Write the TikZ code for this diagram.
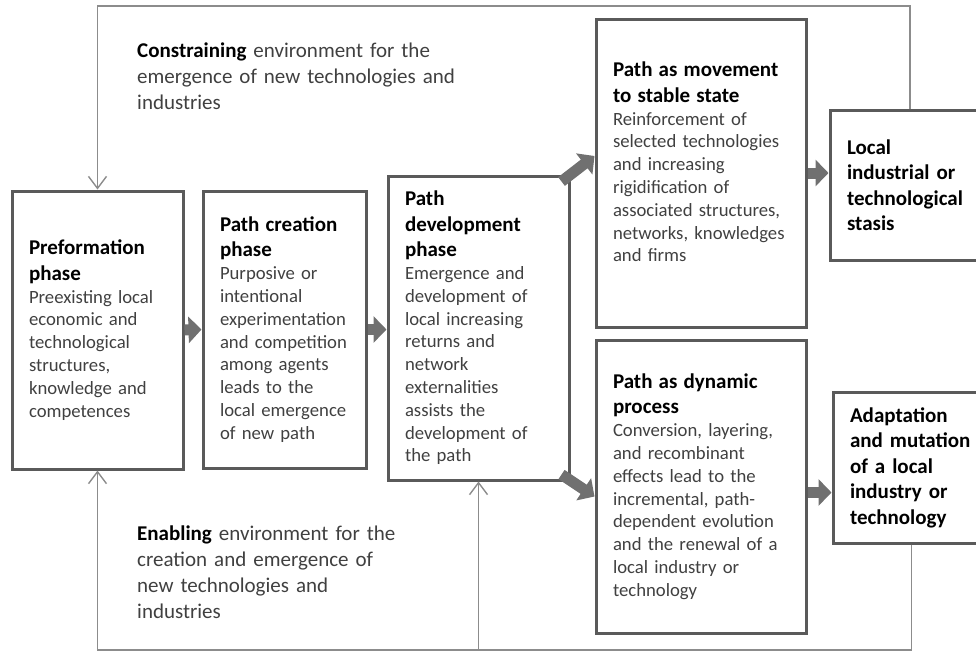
\documentclass[tikz,border=0pt]{standalone}
\usepackage{fontspec}
\setmainfont{Carlito}
\usetikzlibrary{arrows.meta,positioning,calc}

\definecolor{boxgray}{HTML}{5A5A5A}
\definecolor{linegray}{HTML}{8C8C8C}
\definecolor{arrowgray}{HTML}{707070}
\definecolor{textgray}{HTML}{404040}

\newcommand{\phasehead}[1]{{\fontsize{21}{25.5}\selectfont\bfseries\color{black}#1\par}}

\tikzset{
  phase/.style={draw=boxgray, line width=3pt, inner xsep=17pt, inner ysep=0pt, align=left,
    text=textgray, font=\fontsize{18.7}{22.8}\selectfont},
  outcome/.style={phase, text=black, font=\fontsize{21}{25.5}\selectfont\bfseries},
  envline/.style={draw=linegray, line width=1.4pt},
  envarrow/.style={envline, -{Straight Barb[length=12pt,width=18pt]}},
  fat/.style={draw=arrowgray, line width=11pt, -{Triangle[length=13pt,width=26pt]}},
  envtext/.style={anchor=north west, inner sep=0pt, align=left, text=textgray,
    font=\fontsize{21}{26}\selectfont, text width=340pt}
}

\begin{document}
\begin{tikzpicture}[x=1pt, y=-1pt]

    \clip (0,0) rectangle (976,651);

    \coordinate (top) at (0,6);
    \coordinate (bottom) at (0,650);

    % phases
    \node[phase, text width=137pt, minimum height=278pt] (pref) at (97.5,330)
        {\phasehead{Preformation\\phase}Preexisting local\\economic and\\technological\\structures,\\knowledge and\\competences};
    \node[phase, text width=129pt, minimum height=277pt] (crea) at (284.5,329.5)
        {\phasehead{Path creation\\phase}Purposive or\\intentional\\experimentation\\and competition\\among agents\\leads to the\\local emergence\\of new path};
    \node[phase, text width=147pt, minimum height=304pt] (dev) at (478.5,328)
        {\phasehead{Path\\development\\phase}Emergence and\\development of\\local increasing\\returns and\\network\\externalities\\assists the\\development of\\the path};
    \node[phase, text width=176pt, minimum height=308pt] (mov) at (701,173)
        {\phasehead{Path as movement\\to stable state}Reinforcement of\\selected technologies\\and increasing\\rigidification of\\associated structures,\\networks, knowledges\\and firms\par\vspace*{22pt}};
    \node[phase, text width=176pt, minimum height=293pt] (dyn) at (701,486.5)
        {\phasehead{Path as dynamic\\process}Conversion, layering,\\and recombinant\\effects lead to the\\incremental, path-\\dependent evolution\\and the renewal of a\\local industry or\\technology};

    % outcomes
    \node[outcome, text width=126pt, minimum height=150pt] (stasis) at (910,185)
        {Local\\industrial or\\technological\\stasis};
    \node[outcome, text width=123pt, minimum height=151pt] (adapt) at (911.5,467.5)
        {Adaptation\\and mutation\\of a local\\industry or\\technology};

    % environment
    \node[envtext] (constr) at (137,43)
        {\textbf{\color{black}Constraining} environment for the\\emergence of new technologies and\\industries};
    \node[envtext] (enab) at (137,526)
        {\textbf{\color{black}Enabling} environment for the\\creation and emergence of\\new technologies and\\industries};

    \draw[envarrow] (stasis.north) |- (pref.north |- top) -- (pref.north);
    \draw[envarrow] (adapt.south) |- (pref.south |- bottom) -- (pref.south);
    \draw[envarrow] (dev.south |- bottom) -- (dev.south);

    % block arrows
    \draw[fat] (pref.east) -- (crea.west);
    \draw[fat] (crea.east) -- (crea.east -| dev.west);
    \draw[fat] ([xshift=-9pt,yshift=-7pt]dev.north east) -- ([yshift=17pt]mov.west);
    \draw[fat] ([xshift=-9pt,yshift=7pt]dev.south east) -- ([yshift=-10pt]dyn.west);
    \draw[fat] (mov.east) -- (mov.east -| stasis.west);
    \draw[fat] ([yshift=-6pt]dyn.east) -- ([yshift=-6pt]dyn.east -| adapt.west);

\end{tikzpicture}
\end{document}
